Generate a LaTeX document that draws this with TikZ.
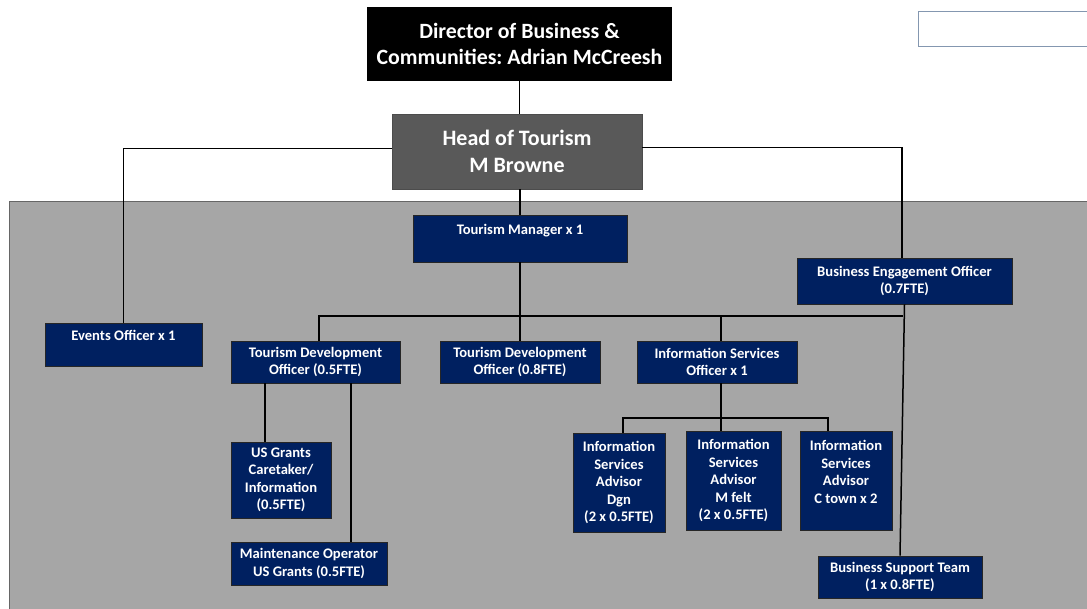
\documentclass[tikz,border=0pt]{standalone}
\usepackage{fontspec}
\setmainfont{Carlito}
\frenchspacing
\usetikzlibrary{calc}
\definecolor{navy}{HTML}{002060}
\definecolor{panelgray}{HTML}{A6A6A6}
\definecolor{headgray}{HTML}{595959}
\definecolor{blankedge}{HTML}{8497B0}
\tikzset{
	post/.style={draw=black!85, line width=0.8pt, fill=navy, text=white, inner sep=0pt, align=center, font=\bfseries\fontsize{14.6}{17.5}\selectfont},
	link/.style={draw=black, line width=1.5pt}
}

\begin{document}
\begin{tikzpicture}[x=1pt, y=-1pt]
	\useasboundingbox (0,0) rectangle (1087,609);
	\clip (0,0) rectangle (1087,609);
	
	% grey panel behind the team
	\draw [fill=panelgray, draw=black!60, line width=1pt] (9,202) rectangle (1095,615);
	\node (blank) [draw=blankedge, line width=1pt, fill=white, minimum width=180pt, minimum height=35pt] at (1008,29.5) {};
	
	\node (dir) [fill=black, text=white, inner sep=0pt, minimum width=305pt, minimum height=74pt, align=center, font=\bfseries\fontsize{21.8}{26}\selectfont] at (519.5,44) {Director of Business \&\\ Communities: Adrian McCreesh};
	\node (head) [draw=black!70, fill=headgray, text=white, inner sep=0pt, minimum width=250pt, minimum height=75pt, align=center, font=\bfseries\fontsize{22}{27}\selectfont] at (517,151.5) {Head of Tourism\\ M Browne};
	
	\node (tm) [post, minimum width=214pt, minimum height=47pt] at (520,238.5) {Tourism Manager x 1\\ ~};
	\node (beo) [post, minimum width=215pt, minimum height=46pt] at (904.5,281) {Business Engagement Officer\\ (0.7FTE)};
	\node (events) [post, minimum width=157pt, minimum height=43pt] at (123.5,344.5) {Events Officer x 1\\ ~};
	\node (tdo5) [post, minimum width=169pt, minimum height=42pt] at (315.5,362) {Tourism Development\\ Officer (0.5FTE)};
	\node (tdo8) [post, minimum width=160pt, minimum height=42pt] at (520,362) {Tourism Development\\ Officer (0.8FTE)};
	\node (iso) [post, minimum width=160pt, minimum height=42pt] at (717,362) {Information Services\\ Officer x 1};
	
	\node (grants) [post, minimum width=100pt, minimum height=76pt] at (281,480) {US Grants\\ Caretaker/\\ Information\\ (0.5FTE)};
	\node (maint) [post, minimum width=156pt, minimum height=43pt] at (309,563.5) {Maintenance Operator\\ US Grants (0.5FTE)};
	
	\node (dgn) [post, minimum width=92pt, minimum height=99pt] at (619,482.5) {Information\\ Services\\ Advisor\\ Dgn\\ (2 x 0.5FTE)};
	\node (mfelt) [post, minimum width=95pt, minimum height=99pt] at (733.5,480.5) {Information\\ Services\\ Advisor\\ M felt\\ (2 x 0.5FTE)};
	\node (ctown) [post, minimum width=92pt, minimum height=99pt] at (846,480.5) {Information\\ Services\\ Advisor\\ C town x 2\\ ~};
	\node (bst) [post, minimum width=164pt, minimum height=42pt] at (900,577) {Business Support Team\\ (1 x 0.8FTE)};
	
	\coordinate (barL) at (319,316);
	\coordinate (barR) at (903,316);
	\coordinate (isbarR) at (828,418);
	
	% reporting lines
	\draw [link] (dir.south) -- (dir.south |- head.north);
	\draw [link] (tm.north) -- (tm.north |- head.south);
	\draw [link] ([yshift=3pt]head.west) -| (events.north);
	\draw [link] ([yshift=4pt]head.east) -| ([xshift=-2.5pt]beo.north);
	\draw [link] (beo.south) -- (bst.north);
	
	\draw [link] (tm.south) -- (tdo8.north);
	\draw [link] ([xshift=3.5pt]tdo5.north) -- (barL) -- (barR);
	\draw [link] ([xshift=4pt]iso.north) -- ([xshift=4pt]iso.north |- barL);
	
	\draw [link] ([xshift=-50.5pt]tdo5.south) -- ([xshift=-16pt]grants.north);
	\draw [link] ([xshift=35.5pt]tdo5.south) -- ([xshift=35.5pt]tdo5.south |- maint.north);
	
	\draw [link] ([xshift=4pt]iso.south) -- ([xshift=4pt]iso.south |- mfelt.north);
	\draw [link] ([xshift=4pt]dgn.north) |- (isbarR) -- (isbarR |- ctown.north);
\end{tikzpicture}
\end{document}
